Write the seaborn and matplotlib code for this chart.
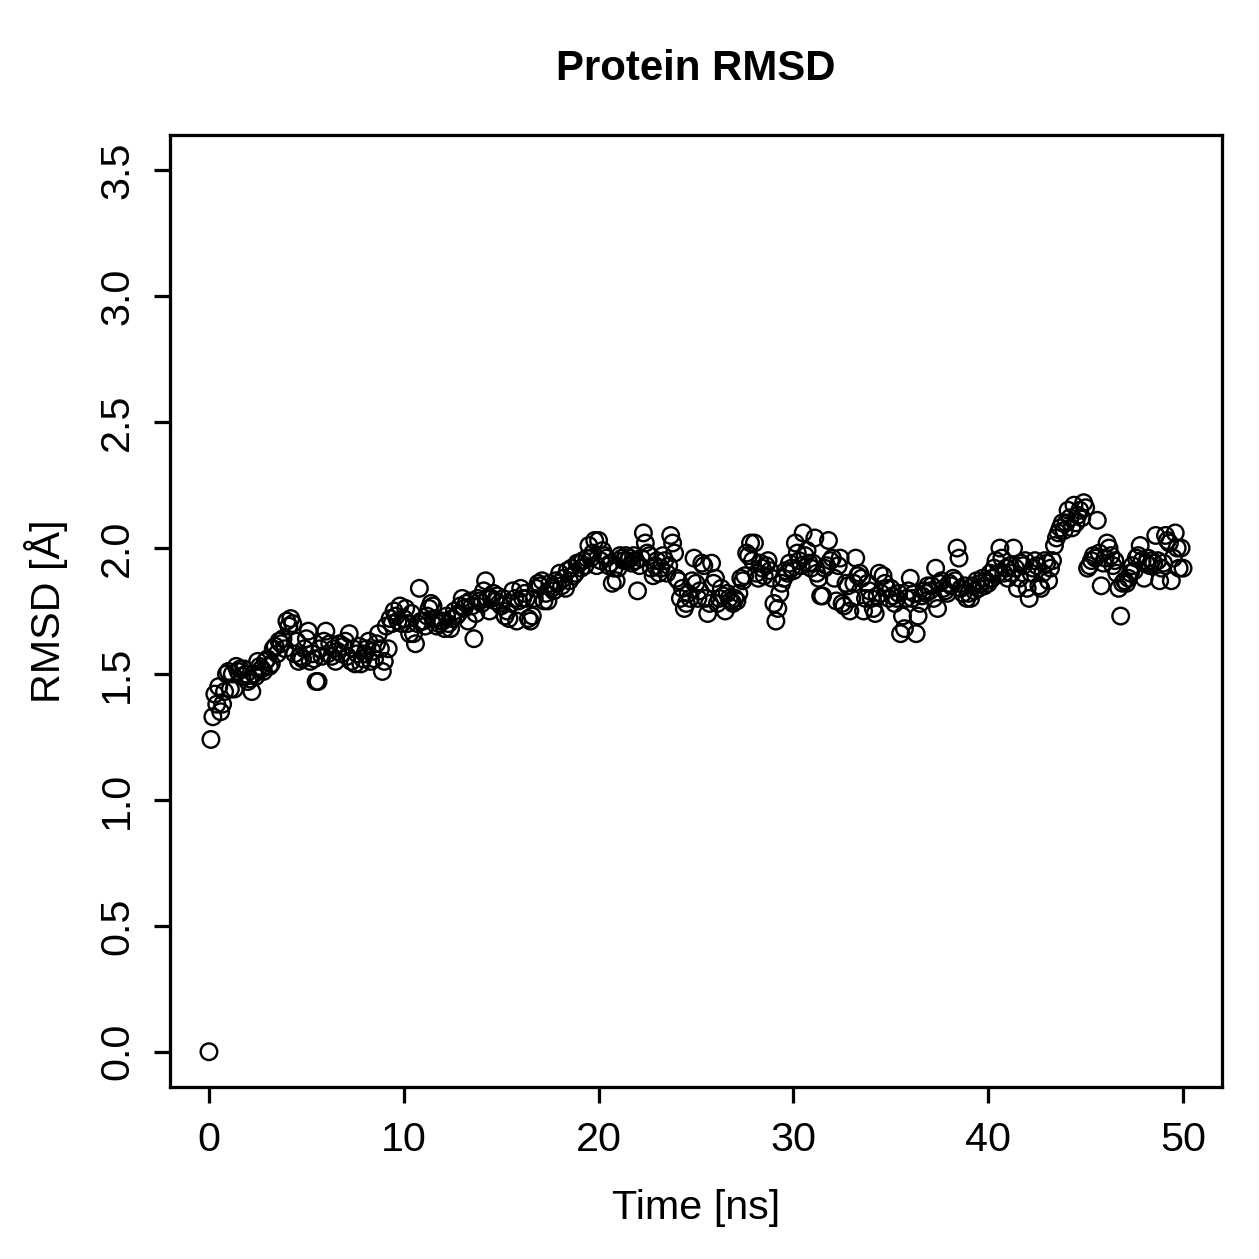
import numpy as np
import pandas as pd
import matplotlib
matplotlib.use("Agg")
import matplotlib.pyplot as plt
import seaborn as sns

# RMSD values (Angstrom), sampled every 0.1 ns, read per 10 ns block
rmsd_00_10 = [
    0.00, 1.24, 1.33, 1.42, 1.38, 1.45, 1.35, 1.38, 1.43, 1.50,
    1.51, 1.44, 1.50, 1.44, 1.53, 1.51, 1.52, 1.49, 1.52, 1.50,
    1.47, 1.48, 1.43, 1.50, 1.49, 1.55, 1.53, 1.52, 1.51, 1.55,
    1.56, 1.53, 1.54, 1.60, 1.61, 1.58, 1.63, 1.62, 1.64, 1.60,
    1.71, 1.69, 1.72, 1.70, 1.58, 1.63, 1.55, 1.57, 1.56, 1.60,
    1.64, 1.67, 1.55, 1.58, 1.56, 1.47, 1.47, 1.60, 1.57, 1.63,
    1.67, 1.58, 1.62, 1.57, 1.60, 1.55, 1.59, 1.62, 1.58, 1.61,
    1.63, 1.57, 1.66, 1.55, 1.60, 1.54, 1.58, 1.61, 1.54, 1.56,
    1.58, 1.60, 1.63, 1.55, 1.59, 1.56, 1.62, 1.66, 1.60, 1.51,
    1.55, 1.69, 1.60, 1.72, 1.70, 1.75, 1.73, 1.71, 1.77, 1.70,
]
rmsd_10_20 = [
    1.72, 1.76, 1.70, 1.66, 1.74, 1.66, 1.62, 1.70, 1.84, 1.71,
    1.71, 1.69, 1.73, 1.76, 1.78, 1.77, 1.72, 1.69, 1.70, 1.71,
    1.71, 1.68, 1.73, 1.70, 1.68, 1.72, 1.75, 1.73, 1.74, 1.77,
    1.80, 1.76, 1.78, 1.71, 1.79, 1.77, 1.64, 1.74, 1.80, 1.79,
    1.78, 1.83, 1.87, 1.80, 1.75, 1.80, 1.82, 1.79, 1.81, 1.78,
    1.77, 1.80, 1.73, 1.75, 1.72, 1.78, 1.83, 1.80, 1.71, 1.79,
    1.84, 1.80, 1.82, 1.80, 1.72, 1.71, 1.73, 1.80, 1.84, 1.86,
    1.85, 1.87, 1.79, 1.82, 1.79, 1.86, 1.84, 1.83, 1.87, 1.86,
    1.90, 1.85, 1.88, 1.84, 1.91, 1.87, 1.92, 1.89, 1.90, 1.94,
    1.94, 1.92, 1.95, 1.93, 1.96, 2.01, 1.96, 1.98, 2.03, 1.93,
]
rmsd_20_30 = [
    2.03, 1.95, 1.99, 1.97, 1.96, 1.93, 1.94, 1.86, 1.92, 1.87,
    1.92, 1.97, 1.96, 1.95, 1.97, 1.95, 1.96, 1.94, 1.97, 1.95,
    1.83, 1.93, 1.96, 2.06, 2.02, 1.98, 1.97, 1.92, 1.89, 1.93,
    1.95, 1.90, 1.92, 1.97, 1.95, 1.90, 1.93, 2.05, 2.02, 1.98,
    1.88, 1.87, 1.80, 1.84, 1.76, 1.78, 1.82, 1.80, 1.87, 1.96,
    1.86, 1.80, 1.83, 1.94, 1.93, 1.80, 1.74, 1.78, 1.94, 1.86,
    1.88, 1.78, 1.80, 1.84, 1.81, 1.75, 1.82, 1.80, 1.79, 1.78,
    1.80, 1.79, 1.82, 1.88, 1.87, 1.89, 1.98, 1.97, 2.02, 1.95,
    2.02, 1.90, 1.88, 1.94, 1.92, 1.89, 1.93, 1.95, 1.91, 1.88,
    1.78, 1.71, 1.76, 1.82, 1.86, 1.88, 1.91, 1.90, 1.94, 1.92,
]
rmsd_30_40 = [
    1.91, 2.02, 1.98, 1.95, 1.93, 2.06, 1.97, 1.99, 1.94, 1.92,
    1.94, 2.04, 1.90, 1.88, 1.81, 1.81, 1.92, 1.93, 2.03, 1.95,
    1.96, 1.88, 1.79, 1.93, 1.96, 1.78, 1.77, 1.86, 1.85, 1.75,
    1.80, 1.86, 1.96, 1.89, 1.90, 1.88, 1.75, 1.80, 1.86, 1.83,
    1.80, 1.76, 1.74, 1.81, 1.90, 1.82, 1.89, 1.86, 1.84, 1.80,
    1.84, 1.81, 1.78, 1.80, 1.82, 1.66, 1.73, 1.68, 1.80, 1.83,
    1.88, 1.80, 1.82, 1.66, 1.73, 1.78, 1.81, 1.83, 1.82, 1.85,
    1.83, 1.85, 1.80, 1.92, 1.76, 1.86, 1.87, 1.84, 1.83, 1.82,
    1.86, 1.85, 1.88, 1.87, 2.00, 1.96, 1.84, 1.82, 1.85, 1.80,
    1.82, 1.80, 1.85, 1.83, 1.87, 1.84, 1.86, 1.88, 1.85, 1.87,
]
rmsd_40_50 = [
    1.86, 1.90, 1.88, 1.92, 1.95, 1.90, 2.00, 1.96, 1.90, 1.92,
    1.88, 1.93, 1.90, 2.00, 1.92, 1.84, 1.88, 1.94, 1.93, 1.95,
    1.84, 1.80, 1.90, 1.92, 1.95, 1.93, 1.85, 1.84, 1.90, 1.95,
    1.94, 1.87, 1.92, 1.95, 2.01, 2.04, 2.06, 2.08, 2.10, 2.07,
    2.10, 2.15, 2.12, 2.08, 2.17, 2.10, 2.13, 2.15, 2.12, 2.18,
    2.16, 1.92, 1.93, 1.95, 1.97, 1.96, 2.11, 1.98, 1.85, 1.94,
    1.96, 2.02, 2.00, 1.97, 1.93, 1.95, 1.90, 1.84, 1.73, 1.86,
    1.87, 1.86, 1.88, 1.90, 1.93, 1.91, 1.96, 1.97, 2.01, 1.95,
    1.88, 1.94, 1.96, 1.93, 1.95, 1.94, 2.05, 1.95, 1.87, 1.92,
    1.94, 2.05, 2.03, 2.02, 1.87, 1.96, 2.06, 2.00, 1.92, 2.00,
    1.92,
]
rmsd = rmsd_00_10 + rmsd_10_20 + rmsd_20_30 + rmsd_30_40 + rmsd_40_50
time_ns = [round(i * 0.1, 1) for i in range(len(rmsd))]

x_ticks = [0, 10, 20, 30, 40, 50]
y_ticks = [0.0, 0.5, 1.0, 1.5, 2.0, 2.5, 3.0, 3.5]
title = "Protein RMSD"
x_label = "Time [ns]"
y_label = "RMSD [Å]"

df = pd.DataFrame({"time": time_ns, "rmsd": rmsd})

sns.set_theme(style="ticks")
plt.rcParams["font.family"] = ["Liberation Sans", "DejaVu Sans"]
plt.rcParams["text.color"] = "black"
plt.rcParams["axes.labelcolor"] = "black"
plt.rcParams["xtick.color"] = "black"
plt.rcParams["ytick.color"] = "black"

fig = plt.figure(figsize=(1259 / 180, 1259 / 180), dpi=180)
ax = fig.add_axes([170 / 1259, 1 - 1087 / 1259, (1222 - 170) / 1259, (1087 - 135) / 1259])

sns.scatterplot(data=df, x="time", y="rmsd", ax=ax, marker="o", s=44,
                facecolors="none", edgecolors="black", linewidths=0.95)

ax.set_xlim(-2, 52)
ax.set_ylim(-0.14, 3.64)
ax.set_xticks(x_ticks)
ax.set_xticklabels([str(v) for v in x_ticks])
ax.set_yticks(y_ticks)
ax.set_yticklabels([f"{v:.1f}" for v in y_ticks], rotation=90, va="center")

for sp in ax.spines.values():
    sp.set_visible(True)
    sp.set_color("black")
    sp.set_linewidth(1.3)

ax.tick_params(axis="both", which="major", length=6.5, width=1.3, color="black",
               labelcolor="black", labelsize=16.5, pad=7, direction="out")
ax.set_xlabel(x_label, fontsize=16.5, labelpad=12, color="black")
ax.set_ylabel(y_label, fontsize=16.5, labelpad=12, color="black")
ax.set_title(title, fontsize=16.8, fontweight="bold", pad=22, color="black")

fig.savefig("out.png", dpi=180, facecolor="white")
